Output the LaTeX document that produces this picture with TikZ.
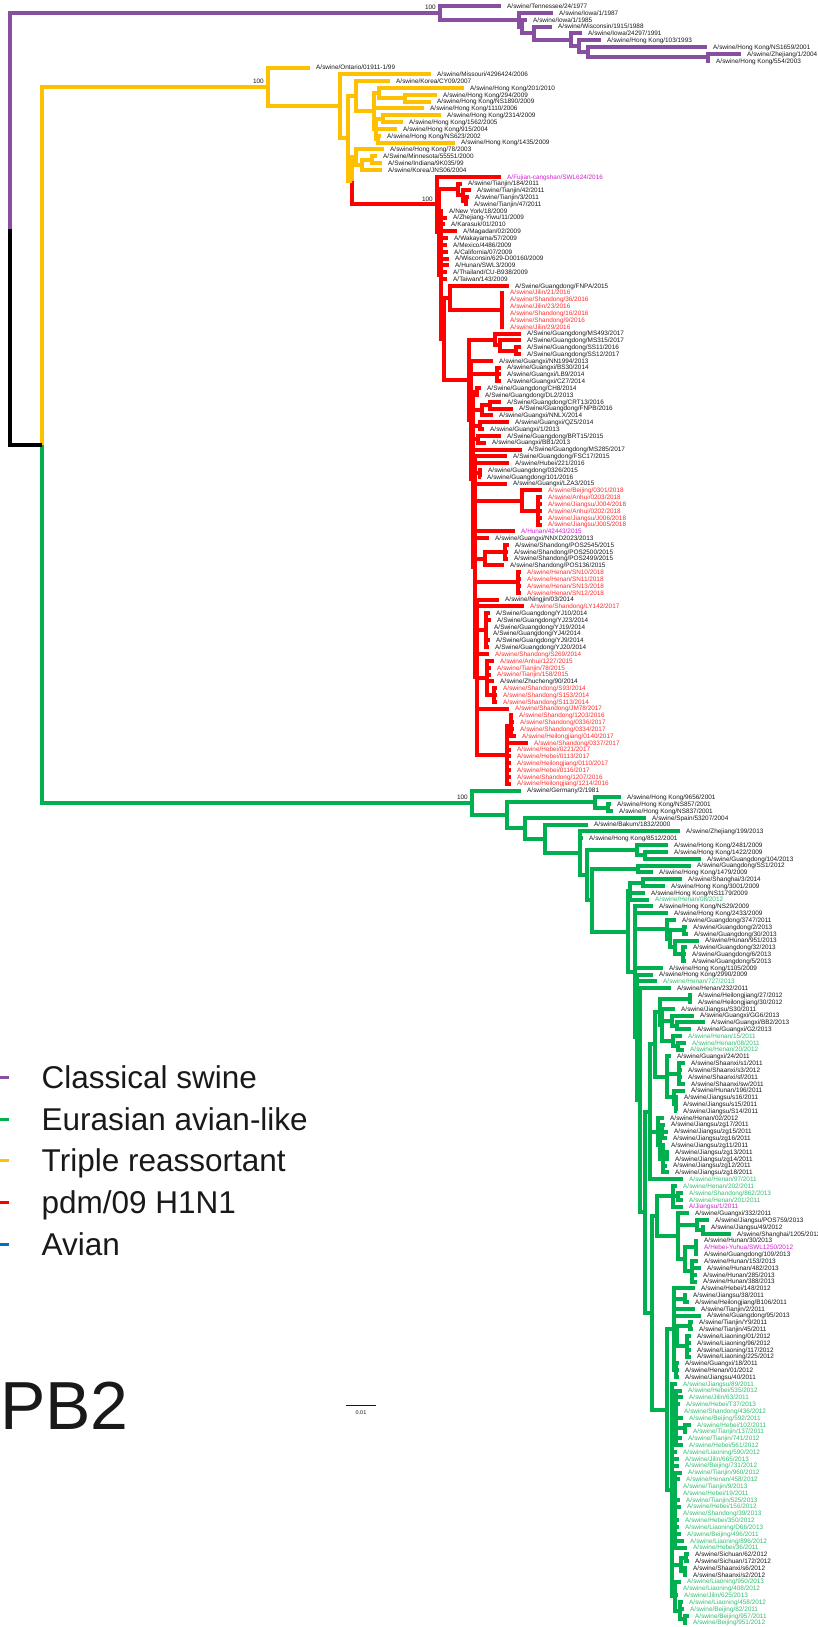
\documentclass[tikz,border=0pt]{standalone}
\usepackage{fontspec}
\setmainfont{Liberation Sans}
\usetikzlibrary{calc}

% branch colours (lineages) and label colours
\definecolor{purp}{RGB}{136,78,160}
\definecolor{yell}{RGB}{255,192,0}
\definecolor{pred}{RGB}{255,0,0}
\definecolor{eagr}{RGB}{0,176,80}
\definecolor{avblue}{RGB}{0,112,192}
\definecolor{lk}{RGB}{25,25,25}
\definecolor{lr}{RGB}{255,45,45}
\definecolor{lg}{RGB}{50,190,110}
\definecolor{lm}{RGB}{210,30,210}

% current branch colour
\def\bcol{purp}
\newcommand\setbc[1]{\gdef\bcol{#1}}

% \leafnode{index}{x where the label starts}{label colour}{label}
\newcommand\leafnode[4]{%
  \pgfmathsetmacro\tipy{6.2+(#1-1)*6.82}%
  \expandafter\xdef\csname ny@L#1\endcsname{\tipy}%
  \expandafter\xdef\csname nc@L#1\endcsname{\bcol}%
  \coordinate (L#1) at ({#2-6},\tipy);%
  \node[lab,text=#3] (L#1-t) at (#2,\tipy) {#4};%
}

% \cladenode{name}{x}{children, top to bottom}
\newcommand\cladenode[3]{%
  \gdef\cfirst{}%
  \foreach \ch in {#3}{\ifx\cfirst\empty\xdef\cfirst{\ch}\fi\xdef\clast{\ch}}%
  \edef\ya{\csname ny@\cfirst\endcsname}%
  \edef\yb{\csname ny@\clast\endcsname}%
  \pgfmathsetmacro\cny{(\ya+\yb)/2}%
  \expandafter\xdef\csname ny@#1\endcsname{\cny}%
  \expandafter\xdef\csname nc@#1\endcsname{\bcol}%
  \coordinate (#1) at (#2,\cny);%
  \foreach \ch in {#3}{\edef\brc{\csname nc@\ch\endcsname}\draw[br,draw=\brc] (#1) |- (\ch);}%
}

\begin{document}
\begin{tikzpicture}[x=1pt,y=-1pt,
  br/.style={line width=4pt,line cap=butt,line join=miter},
  lab/.style={anchor=base west,inner sep=0pt,font=\fontsize{6.4}{7}\selectfont,yshift=-2.3pt},
  boot/.style={anchor=south east,inner sep=0pt,text=lk,font=\fontsize{6.4}{7}\selectfont,xshift=-4pt,yshift=3pt},
  legtext/.style={anchor=base west,inner sep=0pt,text=lk,font=\fontsize{31.5}{36}\selectfont},
  legdash/.style={line width=3pt}]
\useasboundingbox (0,0) rectangle (818,1627);
\clip (0,0) rectangle (818,1627);

%% ---------------- classical swine ----------------
\setbc{purp}
\leafnode{1}{507}{lk}{A/swine/Tennessee/24/1977}
\leafnode{2}{559}{lk}{A/swine/Iowa/1/1987}
\leafnode{3}{533}{lk}{A/swine/Iowa/1/1985}
\leafnode{4}{558}{lk}{A/swine/Wisconsin/1915/1988}
\leafnode{5}{588}{lk}{A/swine/Iowa/24297/1991}
\leafnode{6}{607}{lk}{A/swine/Hong Kong/103/1993}
\leafnode{7}{713}{lk}{A/swine/Hong Kong/NS1659/2001}
\leafnode{8}{747}{lk}{A/swine/Zhejiang/1/2004}
\leafnode{9}{716}{lk}{A/swine/Hong Kong/554/2003}
\cladenode{P7}{708}{L8,L9}
\cladenode{P6}{588}{L7,P7}
\cladenode{P5}{579}{L6,P6}
\cladenode{P4}{571}{L5,P5}
\cladenode{P3}{534}{L4,P4}
\cladenode{P2}{522}{L3,P3}
\cladenode{P1}{519}{L2,P2}
\cladenode{P0}{440}{L1,P1}

%% ---------------- triple reassortant ----------------
\setbc{yell}
\leafnode{10}{316}{lk}{A/swine/Ontario/01911-1/99}
\leafnode{11}{437}{lk}{A/swine/Missouri/4296424/2006}
\leafnode{12}{396}{lk}{A/swine/Korea/CY09/2007}
\leafnode{13}{470}{lk}{A/swine/Hong Kong/201/2010}
\leafnode{14}{443}{lk}{A/swine/Hong Kong/294/2009}
\leafnode{15}{437}{lk}{A/swine/Hong Kong/NS1890/2009}
\leafnode{16}{430}{lk}{A/swine/Hong Kong/1110/2006}
\leafnode{17}{447}{lk}{A/swine/Hong Kong/2314/2009}
\leafnode{18}{409}{lk}{A/swine/Hong Kong/1562/2005}
\leafnode{19}{403}{lk}{A/swine/Hong Kong/915/2004}
\leafnode{20}{387}{lk}{A/swine/Hong Kong/NS623/2002}
\leafnode{21}{461}{lk}{A/swine/Hong Kong/1435/2009}
\leafnode{22}{390}{lk}{A/swine/Hong Kong/78/2003}
\leafnode{23}{383}{lk}{A/Swine/Minnesota/55551/2000}
\leafnode{24}{388}{lk}{A/Swine/Indiana/9K035/99}
\leafnode{25}{388}{lk}{A/swine/Korea/JNS06/2004}
\cladenode{Y7}{405}{L14,L15}
\cladenode{Y6}{379}{L13,Y7}
\cladenode{Y9}{383}{L17,L18}
\cladenode{Y11}{378}{L20,L21}
\cladenode{Y10}{376}{Y9,L19,Y11}
\cladenode{Y5}{374}{Y6,L16,Y10}
\cladenode{Y3}{356}{L12,Y5}
\cladenode{Y14}{372}{L23,L24}
\cladenode{Y13}{362}{Y14,L25}
\cladenode{Y12}{356}{L22,Y13}

%% ---------------- pdm/09 H1N1 ----------------
\setbc{pred}
\leafnode{26}{507}{lm}{A/Fujian-cangshan/SWL624/2016}
\leafnode{27}{468}{lk}{A/swine/Tianjin/184/2011}
\leafnode{28}{477}{lk}{A/swine/Tianjin/42/2011}
\leafnode{29}{475}{lk}{A/swine/Tianjin/3/2011}
\leafnode{30}{474}{lk}{A/swine/Tianjin/47/2011}
\leafnode{31}{449}{lk}{A/New York/18/2009}
\leafnode{32}{453}{lk}{A/Zhejiang-Yiwu/11/2009}
\leafnode{33}{451}{lk}{A/Karasuk/01/2010}
\leafnode{34}{463}{lk}{A/Magadan/02/2009}
\leafnode{35}{454}{lk}{A/Wakayama/57/2009}
\leafnode{36}{453}{lk}{A/Mexico/4486/2009}
\leafnode{37}{454}{lk}{A/California/07/2009}
\leafnode{38}{455}{lk}{A/Wisconsin/629-D00160/2009}
\leafnode{39}{455}{lk}{A/Hunan/SWL3/2009}
\leafnode{40}{453}{lk}{A/Thailand/CU-B938/2009}
\leafnode{41}{453}{lk}{A/Taiwan/143/2009}
\leafnode{42}{515}{lk}{A/Swine/Guangdong/FNPA/2015}
\leafnode{43}{510}{lr}{A/swine/Jilin/21/2016}
\leafnode{44}{510}{lr}{A/swine/Shandong/36/2016}
\leafnode{45}{510}{lr}{A/swine/Jilin/23/2016}
\leafnode{46}{510}{lr}{A/swine/Shandong/16/2016}
\leafnode{47}{510}{lr}{A/swine/Shandong/9/2016}
\leafnode{48}{510}{lr}{A/swine/Jilin/29/2016}
\leafnode{49}{527}{lk}{A/Swine/Guangdong/MS493/2017}
\leafnode{50}{527}{lk}{A/Swine/Guangdong/MS315/2017}
\leafnode{51}{527}{lk}{A/Swine/Guangdong/SS11/2016}
\leafnode{52}{527}{lk}{A/Swine/Guangdong/SS12/2017}
\leafnode{53}{499}{lk}{A/swine/Guangxi/NN1994/2013}
\leafnode{54}{507}{lk}{A/swine/Guangxi/BS30/2014}
\leafnode{55}{507}{lk}{A/swine/Guangxi/LB9/2014}
\leafnode{56}{507}{lk}{A/swine/Guangxi/CZ7/2014}
\leafnode{57}{487}{lk}{A/Swine/Guangdong/CH8/2014}
\leafnode{58}{485}{lk}{A/Swine/Guangdong/DL2/2013}
\leafnode{59}{507}{lk}{A/Swine/Guangdong/CRT13/2016}
\leafnode{60}{519}{lk}{A/Swine/Guangdong/FNPB/2016}
\leafnode{61}{499}{lk}{A/swine/Guangxi/NNLX/2014}
\leafnode{62}{515}{lk}{A/swine/Guangxi/QZ5/2014}
\leafnode{63}{490}{lk}{A/swine/Guangxi/1/2013}
\leafnode{64}{507}{lk}{A/Swine/Guangdong/BRT15/2015}
\leafnode{65}{492}{lk}{A/swine/Guangxi/BB1/2013}
\leafnode{66}{528}{lk}{A/Swine/Guangdong/MS285/2017}
\leafnode{67}{513}{lk}{A/Swine/Guangdong/FSC17/2015}
\leafnode{68}{515}{lk}{A/swine/Hubei/221/2016}
\leafnode{69}{488}{lk}{A/swine/Guangdong/0326/2015}
\leafnode{70}{487}{lk}{A/swine/Guangdong/101/2016}
\leafnode{71}{513}{lk}{A/swine/Guangxi/LZA3/2015}
\leafnode{72}{548}{lr}{A/swine/Beijing/0301/2018}
\leafnode{73}{548}{lr}{A/swine/Anhui/0203/2018}
\leafnode{74}{548}{lr}{A/swine/Jiangsu/J004/2018}
\leafnode{75}{548}{lr}{A/swine/Anhui/0202/2018}
\leafnode{76}{548}{lr}{A/swine/Jiangsu/J006/2018}
\leafnode{77}{548}{lr}{A/swine/Jiangsu/J005/2018}
\leafnode{78}{521}{lm}{A/Hunan/42443/2015}
\leafnode{79}{495}{lk}{A/swine/Guangxi/NNXD2023/2013}
\leafnode{80}{515}{lk}{A/swine/Shandong/POS2545/2015}
\leafnode{81}{514}{lk}{A/swine/Shandong/POS2500/2015}
\leafnode{82}{514}{lk}{A/swine/Shandong/POS2499/2015}
\leafnode{83}{510}{lk}{A/swine/Shandong/POS136/2015}
\leafnode{84}{527}{lr}{A/swine/Henan/SN10/2018}
\leafnode{85}{527}{lr}{A/swine/Henan/SN11/2018}
\leafnode{86}{527}{lr}{A/swine/Henan/SN13/2018}
\leafnode{87}{527}{lr}{A/swine/Henan/SN12/2018}
\leafnode{88}{505}{lk}{A/swine/Ningjin/03/2014}
\leafnode{89}{530}{lr}{A/swine/Shandong/LY142/2017}
\leafnode{90}{496}{lk}{A/Swine/Guangdong/YJ10/2014}
\leafnode{91}{497}{lk}{A/Swine/Guangdong/YJ23/2014}
\leafnode{92}{494}{lk}{A/Swine/Guangdong/YJ19/2014}
\leafnode{93}{493}{lk}{A/Swine/Guangdong/YJ4/2014}
\leafnode{94}{496}{lk}{A/Swine/Guangdong/YJ9/2014}
\leafnode{95}{495}{lk}{A/Swine/Guangdong/YJ20/2014}
\leafnode{96}{495}{lr}{A/swine/Shandong/S269/2014}
\leafnode{97}{500}{lr}{A/swine/Anhui/1227/2015}
\leafnode{98}{497}{lr}{A/swine/Tianjin/78/2015}
\leafnode{99}{497}{lr}{A/swine/Tianjin/158/2015}
\leafnode{100}{500}{lk}{A/swine/Zhucheng/90/2014}
\leafnode{101}{503}{lr}{A/swine/Shandong/S93/2014}
\leafnode{102}{503}{lr}{A/swine/Shandong/S153/2014}
\leafnode{103}{503}{lr}{A/swine/Shandong/S113/2014}
\leafnode{104}{515}{lr}{A/swine/Shandong/JM78/2017}
\leafnode{105}{519}{lr}{A/swine/Shandong/1203/2016}
\leafnode{106}{520}{lr}{A/swine/Shandong/0336/2017}
\leafnode{107}{520}{lr}{A/swine/Shandong/0334/2017}
\leafnode{108}{522}{lr}{A/swine/Heilongjiang/0140/2017}
\leafnode{109}{534}{lr}{A/swine/Shandong/0337/2017}
\leafnode{110}{517}{lr}{A/swine/Hebei/0221/2017}
\leafnode{111}{517}{lr}{A/swine/Hebei/0113/2017}
\leafnode{112}{517}{lr}{A/swine/Heilongjiang/0110/2017}
\leafnode{113}{517}{lr}{A/swine/Hebei/0116/2017}
\leafnode{114}{517}{lr}{A/swine/Shandong/1207/2016}
\leafnode{115}{517}{lr}{A/swine/Heilongjiang/1214/2016}
\cladenode{T2}{466}{L29,L30}
\cladenode{T1}{463}{L28,T2}
\cladenode{T}{458}{L27,T1}
\cladenode{J}{502}{L43,L44,L45,L46,L47,L48}
\cladenode{R5}{450}{L42,J}
\cladenode{M2}{516}{L51,L52}
\cladenode{M1}{500}{L50,M2}
\cladenode{M}{495}{L49,M1}
\cladenode{B}{497}{L54,L55,L56}
\cladenode{CH}{477}{L57,L58}
\cladenode{CRa}{490}{L59,L60}
\cladenode{CR}{482}{CRa,L61}
\cladenode{QZ}{480}{L62,L63}
\cladenode{BR}{478}{L64,L65}
\cladenode{GD}{480}{L69,L70}
\cladenode{S18b}{538}{L73,L74,L75,L76,L77}
\cladenode{S18}{522}{L72,S18b}
\cladenode{POSa}{505}{L80,L81,L82}
\cladenode{POS}{485}{POSa,L83}
\cladenode{SN}{518}{L84,L85,L86,L87}
\cladenode{YJ}{486}{L90,L91,L92,L93,L94,L95}
\cladenode{SDb}{494}{L101,L102,L103}
\cladenode{SDa}{487}{L97,L98,L99,L100,SDb}
\cladenode{HSa}{511}{L105,L106,L107,L108}
\cladenode{H}{507}{HSa,L109,L110,L111,L112,L113,L114,L115}
\cladenode{R9}{477}{L88,L89,YJ,L96,SDa,L104,H}
\cladenode{R8}{475}{L67,L68,GD,L71,S18,L78,L79,POS,SN,R9}
\cladenode{R7}{473}{CH,CR,QZ,BR,L66,R8}
\cladenode{R6}{471}{L53,B,R7}
\cladenode{R4}{469}{M,R6}
\cladenode{R3}{444}{R5,R4}
\cladenode{R2}{441}{L31,L32,L33,L34,L35,L36,L37,L38,L39,L40,L41,R3}
\cladenode{R1}{439}{T,R2}
\cladenode{R}{437}{L26,R1}

\setbc{yell}
\cladenode{Y4}{352}{Y12,R}
\cladenode{Y2}{348}{Y3,Y4}
\cladenode{Y1}{340}{L11,Y2}
\cladenode{Y0}{268}{L10,Y1}

%% ---------------- Eurasian avian-like ----------------
\setbc{eagr}
\leafnode{116}{527}{lk}{A/swine/Germany/2/1981}
\leafnode{117}{627}{lk}{A/swine/Hong Kong/9656/2001}
\leafnode{118}{617}{lk}{A/swine/Hong Kong/NS857/2001}
\leafnode{119}{619}{lk}{A/swine/Hong Kong/NS837/2001}
\leafnode{120}{652}{lk}{A/swine/Spain/53207/2004}
\leafnode{121}{594}{lk}{A/swine/Bakum/1832/2000}
\leafnode{122}{686}{lk}{A/swine/Zhejiang/199/2013}
\leafnode{123}{589}{lk}{A/swine/Hong Kong/8512/2001}
\leafnode{124}{674}{lk}{A/swine/Hong Kong/2481/2009}
\leafnode{125}{674}{lk}{A/swine/Hong Kong/1422/2009}
\leafnode{126}{707}{lk}{A/swine/Guangdong/104/2013}
\leafnode{127}{697}{lk}{A/swine/Guangdong/SS1/2012}
\leafnode{128}{659}{lk}{A/swine/Hong Kong/1479/2009}
\leafnode{129}{688}{lk}{A/swine/Shanghai/3/2014}
\leafnode{130}{671}{lk}{A/swine/Hong Kong/3001/2009}
\leafnode{131}{651}{lk}{A/swine/Hong Kong/NS1179/2009}
\leafnode{132}{655}{lg}{A/swine/Henan/08/2012}
\leafnode{133}{659}{lk}{A/swine/Hong Kong/NS29/2009}
\leafnode{134}{674}{lk}{A/swine/Hong Kong/2433/2009}
\leafnode{135}{682}{lk}{A/swine/Guangdong/3747/2011}
\leafnode{136}{693}{lk}{A/swine/Guangdong/2/2013}
\leafnode{137}{694}{lk}{A/swine/Guangdong/30/2013}
\leafnode{138}{705}{lk}{A/swine/Hunan/951/2013}
\leafnode{139}{693}{lk}{A/swine/Guangdong/32/2013}
\leafnode{140}{692}{lk}{A/swine/Guangdong/6/2013}
\leafnode{141}{692}{lk}{A/swine/Guangdong/5/2013}
\leafnode{142}{669}{lk}{A/swine/Hong Kong/1105/2009}
\leafnode{143}{659}{lk}{A/swine/Hong Kong/2990/2009}
\leafnode{144}{663}{lg}{A/swine/Henan/727/2013}
\leafnode{145}{677}{lk}{A/swine/Henan/232/2011}
\leafnode{146}{698}{lk}{A/swine/Heilongjiang/27/2012}
\leafnode{147}{698}{lk}{A/swine/Heilongjiang/30/2012}
\leafnode{148}{681}{lk}{A/swine/Jiangsu/S30/2011}
\leafnode{149}{700}{lk}{A/swine/Guangxi/GG6/2013}
\leafnode{150}{711}{lk}{A/swine/Guangxi/BB2/2013}
\leafnode{151}{697}{lk}{A/swine/Guangxi/G2/2013}
\leafnode{152}{688}{lg}{A/swine/Henan/15/2011}
\leafnode{153}{692}{lg}{A/swine/Henan/08/2011}
\leafnode{154}{690}{lg}{A/swine/Henan/20/2012}
\leafnode{155}{677}{lk}{A/swine/Guangxi/24/2011}
\leafnode{156}{691}{lk}{A/swine/Shaanxi/s1/2011}
\leafnode{157}{688}{lk}{A/swine/Shaanxi/s3/2012}
\leafnode{158}{688}{lk}{A/swine/Shaanxi/sf/2011}
\leafnode{159}{691}{lk}{A/swine/Shaanxi/sw/2011}
\leafnode{160}{691}{lk}{A/swine/Hunan/196/2011}
\leafnode{161}{684}{lk}{A/swine/Jiangsu/s16/2011}
\leafnode{162}{683}{lk}{A/swine/Jiangsu/s15/2011}
\leafnode{163}{683}{lk}{A/swine/Jiangsu/S14/2011}
\leafnode{164}{670}{lk}{A/swine/Henan/02/2012}
\leafnode{165}{671}{lk}{A/swine/Jiangsu/zg17/2011}
\leafnode{166}{674}{lk}{A/swine/Jiangsu/zg15/2011}
\leafnode{167}{673}{lk}{A/swine/Jiangsu/zg16/2011}
\leafnode{168}{671}{lk}{A/swine/Jiangsu/zg11/2011}
\leafnode{169}{675}{lk}{A/swine/Jiangsu/zg13/2011}
\leafnode{170}{675}{lk}{A/swine/Jiangsu/zg14/2011}
\leafnode{171}{673}{lk}{A/swine/Jiangsu/zg12/2011}
\leafnode{172}{675}{lk}{A/swine/Jiangsu/zg18/2011}
\leafnode{173}{689}{lg}{A/swine/Henan/97/2011}
\leafnode{174}{683}{lg}{A/swine/Henan/202/2011}
\leafnode{175}{689}{lg}{A/swine/Shandong/862/2013}
\leafnode{176}{689}{lg}{A/swine/Henan/201/2011}
\leafnode{177}{689}{lm}{A/Jiangsu/1/2011}
\leafnode{178}{695}{lk}{A/swine/Guangxi/332/2011}
\leafnode{179}{715}{lk}{A/swine/Jiangsu/POS759/2013}
\leafnode{180}{711}{lk}{A/swine/Jiangsu/49/2012}
\leafnode{181}{737}{lk}{A/swine/Shanghai/1205/2012}
\leafnode{182}{704}{lk}{A/swine/Hunan/30/2013}
\leafnode{183}{704}{lm}{A/Hebei-Yuhua/SWL1250/2012}
\leafnode{184}{704}{lk}{A/swine/Guangdong/109/2013}
\leafnode{185}{704}{lk}{A/swine/Hunan/153/2013}
\leafnode{186}{707}{lk}{A/swine/Hunan/482/2013}
\leafnode{187}{703}{lk}{A/swine/Hunan/285/2013}
\leafnode{188}{703}{lk}{A/swine/Hunan/388/2013}
\leafnode{189}{701}{lk}{A/swine/Hebei/148/2012}
\leafnode{190}{693}{lk}{A/swine/Jiangsu/38/2011}
\leafnode{191}{695}{lk}{A/swine/Heilongjiang/B106/2011}
\leafnode{192}{701}{lk}{A/swine/Tianjin/2/2011}
\leafnode{193}{707}{lk}{A/swine/Guangdong/95/2013}
\leafnode{194}{699}{lk}{A/swine/Tianjin/Y9/2011}
\leafnode{195}{699}{lk}{A/swine/Tianjin/45/2011}
\leafnode{196}{697}{lk}{A/swine/Liaoning/01/2012}
\leafnode{197}{697}{lk}{A/swine/Liaoning/96/2012}
\leafnode{198}{697}{lk}{A/swine/Liaoning/117/2012}
\leafnode{199}{697}{lk}{A/swine/Liaoning/225/2012}
\leafnode{200}{685}{lk}{A/swine/Guangxi/18/2011}
\leafnode{201}{685}{lk}{A/swine/Henan/01/2012}
\leafnode{202}{685}{lk}{A/swine/Jiangsu/40/2011}
\leafnode{203}{683}{lg}{A/swine/Jiangsu/89/2011}
\leafnode{204}{688}{lg}{A/swine/Hebei/535/2012}
\leafnode{205}{689}{lg}{A/swine/Jilin/63/2011}
\leafnode{206}{686}{lg}{A/swine/Hebei/T37/2013}
\leafnode{207}{684}{lg}{A/swine/Shandong/436/2012}
\leafnode{208}{689}{lg}{A/swine/Beijing/592/2011}
\leafnode{209}{697}{lg}{A/swine/Hebei/102/2011}
\leafnode{210}{693}{lg}{A/swine/Tianjin/137/2011}
\leafnode{211}{688}{lg}{A/swine/Tianjin/741/2012}
\leafnode{212}{689}{lg}{A/swine/Hebei/561/2012}
\leafnode{213}{683}{lg}{A/swine/Liaoning/590/2012}
\leafnode{214}{685}{lg}{A/swine/Jilin/665/2013}
\leafnode{215}{685}{lg}{A/swine/Beijing/731/2012}
\leafnode{216}{688}{lg}{A/swine/Tianjin/960/2012}
\leafnode{217}{686}{lg}{A/swine/Henan/458/2012}
\leafnode{218}{683}{lg}{A/swine/Tianjin/9/2013}
\leafnode{219}{683}{lg}{A/swine/Hebei/19/2011}
\leafnode{220}{686}{lg}{A/swine/Tianjin/525/2013}
\leafnode{221}{687}{lg}{A/swine/Hebei/156/2012}
\leafnode{222}{683}{lg}{A/swine/Shandong/39/2013}
\leafnode{223}{685}{lg}{A/swine/Hebei/350/2012}
\leafnode{224}{685}{lg}{A/swine/Liaoning/D66/2013}
\leafnode{225}{687}{lg}{A/swine/Beijing/496/2011}
\leafnode{226}{690}{lg}{A/swine/Liaoning/896/2012}
\leafnode{227}{693}{lg}{A/swine/Hebei/36/2011}
\leafnode{228}{695}{lk}{A/swine/Sichuan/62/2012}
\leafnode{229}{695}{lk}{A/swine/Sichuan/172/2012}
\leafnode{230}{693}{lk}{A/swine/Shaanxi/s6/2012}
\leafnode{231}{693}{lk}{A/swine/Shaanxi/s2/2012}
\leafnode{232}{687}{lg}{A/swine/Liaoning/950/2013}
\leafnode{233}{683}{lg}{A/swine/Liaoning/408/2012}
\leafnode{234}{684}{lg}{A/swine/Jilin/625/2013}
\leafnode{235}{689}{lg}{A/swine/Liaoning/458/2012}
\leafnode{236}{690}{lg}{A/swine/Beijing/82/2011}
\leafnode{237}{695}{lg}{A/swine/Beijing/957/2011}
\leafnode{238}{693}{lg}{A/swine/Beijing/951/2012}
\cladenode{GHKs}{608}{L118,L119}
\cladenode{GHK}{595}{L117,GHKs}
\cladenode{GA1}{645}{L125,L126}
\cladenode{GA}{637}{L124,GA1}
\cladenode{GB}{638}{L127,L128}
\cladenode{GDa}{643}{L129,L130}
\cladenode{GDc}{630}{GDa,L131,L132}
\cladenode{GG2}{684}{L136,L137}
\cladenode{GG4}{683}{L139,L140,L141}
\cladenode{GG3}{675}{L138,GG4}
\cladenode{GG1}{670}{GG2,GG3}
\cladenode{GG}{667}{L135,GG1}
\cladenode{HL}{690}{L146,L147}
\cladenode{GXa}{677}{L150,L151}
\cladenode{GX}{672}{L149,GXa}
\cladenode{HNa}{678}{L153,L154}
\cladenode{HN}{673}{L152,HNa}
\cladenode{A4}{662}{L148,GX,HN}
\cladenode{A3}{660}{HL,A4}
\cladenode{SX}{679}{L156,L157,L158,L159}
\cladenode{HJa}{676}{L161,L162,L163}
\cladenode{HJ}{674}{L160,HJa}
\cladenode{A5}{667}{L155,SX,HJ}
\cladenode{A2}{655}{A3,A5}
\cladenode{ZGc}{667}{L169,L170}
\cladenode{ZGb}{663}{L168,ZGc,L171,L172}
\cladenode{ZGa}{662}{L165,L166,L167}
\cladenode{ZG}{660}{ZGa,ZGb}
\cladenode{A9}{658}{L164,ZG}
\cladenode{A1}{650}{A2,A9,L173}
\cladenode{B2a}{678}{L175,L176}
\cladenode{B2}{673}{L174,B2a,L177}
\cladenode{PSa}{703}{L180,L181}
\cladenode{PS}{697}{L179,PSa}
\cladenode{HUa}{696}{L182,L183,L184}
\cladenode{HUb}{692}{L185,L186,L187,L188}
\cladenode{HU}{685}{HUa,HUb}
\cladenode{B3}{678}{L178,PS,HU}
\cladenode{B1}{657}{B2,B3}
\cladenode{C2a}{685}{L190,L191}
\cladenode{TJ}{690}{L194,L195}
\cladenode{LN}{687}{L196,L197,L198,L199}
\cladenode{C2b}{677}{TJ,LN}
\cladenode{C2c}{676}{L200,L201,L202}
\cladenode{C2}{674}{L189,C2a,L192,L193,C2b,C2c}
\cladenode{C3b}{685}{L209,L210}
\cladenode{C3a}{676}{L204,L205,L206,L207,L208,C3b,L211,L212}
\cladenode{C3c}{675}{L216,L217,L218,L219,L220,L221,L222,L223,L224,L225,L226,L227}
\cladenode{SCa}{686}{L228,L229}
\cladenode{SCb}{685}{L230,L231}
\cladenode{SC}{681}{SCa,SCb}
\cladenode{C3f}{685}{L237,L238}
\cladenode{C3e}{680}{L235,L236,C3f}
\cladenode{C3d}{675}{L232,L233,L234,C3e}
\cladenode{C3}{672}{L203,C3a,L213,L214,L215,C3c,SC,C3d}
\cladenode{C1}{667}{C2,C3}
\cladenode{G14}{652}{B1,C1}
\cladenode{G13}{645}{A1,G14}
\cladenode{G12}{640}{L145,G13}
\cladenode{G11}{637}{L143,L144,G12}
\cladenode{G10}{635}{L133,L134,GG,L142,G11}
\cladenode{G9}{628}{GDc,G10}
\cladenode{G7}{592}{GB,G9}
\cladenode{G6}{587}{GA,G7}
\cladenode{G4}{580}{L122,L123,G6}
\cladenode{G3}{545}{L121,G4}
\cladenode{G2}{525}{L120,G3}
\cladenode{G1}{507}{GHK,G2}
\cladenode{G0}{472}{L116,G1}

%% ---------------- backbone ----------------
\setbc{black}
\cladenode{X}{41.5}{Y0,G0}
\cladenode{ROOT}{10.4}{P0,X}

% bootstrap support
\node[boot] (bP) at (P0) {100};
\node[boot] (bY) at (Y0) {100};
\node[boot] (bR) at (R) {100};
\node[boot] (bG) at (G0) {100};

%% ---------------- legend ----------------
\node[legtext] (leg1) at (41.5,1088) {Classical swine};
\node[legtext] (leg2) at (41.5,1130) {Eurasian avian-like};
\node[legtext] (leg3) at (41.5,1171.5) {Triple reassortant};
\node[legtext] (leg4) at (41.5,1213) {pdm/09 H1N1};
\node[legtext] (leg5) at (41.5,1255) {Avian};
\draw[legdash,draw=purp] (0,1077) -- (9,1077);
\draw[legdash,draw=eagr] (0,1119) -- (9,1119);
\draw[legdash,draw=yell] (0,1160.5) -- (9,1160.5);
\draw[legdash,draw=pred] (0,1202) -- (9,1202);
\draw[legdash,draw=avblue] (0,1244) -- (9,1244);

% gene segment
\node[anchor=base west,inner sep=0pt,text=lk,font=\fontsize{68}{80}\selectfont] (seg) at (0,1429) {PB2};

% scale bar
\coordinate (sbA) at (346,1405.5);
\coordinate (sbB) at (376,1405.5);
\draw[line width=1pt,lk] (sbA) -- (sbB);
\node[anchor=north,inner sep=0pt,text=lk,font=\fontsize{5.5}{6}\selectfont] (sbl) at (361,1410) {0.01};
\end{tikzpicture}
\end{document}
